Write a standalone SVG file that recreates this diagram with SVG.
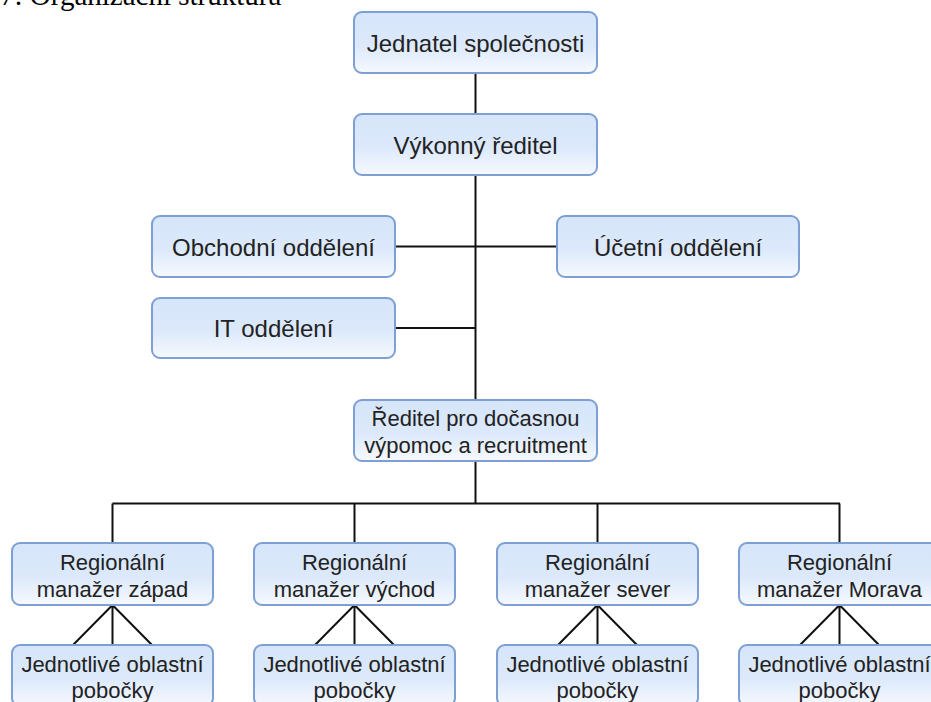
<svg xmlns="http://www.w3.org/2000/svg" width="931" height="702" viewBox="0 0 931 702">
<defs>
<linearGradient id="g" x1="0" y1="0" x2="0" y2="1">
<stop offset="0" stop-color="#d6e5fa"/>
<stop offset="0.55" stop-color="#dce9fb"/>
<stop offset="1" stop-color="#f6f9fe"/>
</linearGradient>
</defs>
<style>
.box{fill:url(#g);stroke:#7d9fd3;stroke-width:2}
.t{font-family:"Liberation Sans",Arial,sans-serif;fill:#222;text-anchor:middle}
.l{font-size:24px}
.s{font-size:22px}
.c{stroke:#111;stroke-width:2;fill:none}
.title{font-family:"Liberation Serif","Times New Roman",serif;font-size:29px;fill:#000}
</style>
<rect width="931" height="702" fill="#fff"/>
<text class="title" x="0" y="5">7: Organizační struktura</text>
<g id="connectors">
<path class="c" d="M475.5 73V114M475.5 175V503.5M395 246.5H557M395 328H475.5M112.5 503.5H840M112.5 503.5V543M354.5 503.5V543M597.5 503.5V543M839.5 503.5V543"/>
<path class="c" d="M112.5 605L73 645M112.5 605V645M112.5 605L152 645"/>
<path class="c" d="M354.5 605L315 645M354.5 605V645M354.5 605L394 645"/>
<path class="c" d="M597.5 605L558 645M597.5 605V645M597.5 605L637 645"/>
<path class="c" d="M839.5 605L800 645M839.5 605V645M839.5 605L879 645"/>
</g>
<g id="n1"><rect class="box" x="354" y="12" width="243" height="61" rx="8"/><text class="t l" x="475.5" y="52">Jednatel společnosti</text></g>
<g id="n2"><rect class="box" x="354" y="114" width="243" height="61" rx="8"/><text class="t l" x="475.5" y="154">Výkonný ředitel</text></g>
<g id="n3"><rect class="box" x="152" y="216" width="243" height="61" rx="8"/><text class="t l" x="273.5" y="256">Obchodní oddělení</text></g>
<g id="n4"><rect class="box" x="557" y="216" width="242" height="61" rx="8"/><text class="t l" x="678" y="256">Účetní oddělení</text></g>
<g id="n5"><rect class="box" x="152" y="298" width="243" height="60" rx="8"/><text class="t l" x="273.5" y="337">IT oddělení</text></g>
<g id="n6"><rect class="box" x="354" y="400" width="243" height="61" rx="8"/><text class="t s" x="475.5" y="426">Ředitel pro dočasnou</text><text class="t s" x="475.5" y="453">výpomoc a recruitment</text></g>
<g id="r1"><rect class="box" x="12" y="543" width="201" height="62" rx="8"/><text class="t s" x="112.5" y="570">Regionální</text><text class="t s" x="112.5" y="597">manažer západ</text></g>
<g id="r2"><rect class="box" x="254" y="543" width="201" height="62" rx="8"/><text class="t s" x="354.5" y="570">Regionální</text><text class="t s" x="354.5" y="597">manažer východ</text></g>
<g id="r3"><rect class="box" x="497" y="543" width="201" height="62" rx="8"/><text class="t s" x="597.5" y="570">Regionální</text><text class="t s" x="597.5" y="597">manažer sever</text></g>
<g id="r4"><rect class="box" x="739" y="543" width="201" height="62" rx="8"/><text class="t s" x="839.5" y="570">Regionální</text><text class="t s" x="839.5" y="597">manažer Morava</text></g>
<g id="b1"><rect class="box" x="12" y="645" width="201" height="61" rx="8"/><text class="t s" x="112.5" y="672">Jednotlivé oblastní</text><text class="t s" x="112.5" y="698">pobočky</text></g>
<g id="b2"><rect class="box" x="254" y="645" width="201" height="61" rx="8"/><text class="t s" x="354.5" y="672">Jednotlivé oblastní</text><text class="t s" x="354.5" y="698">pobočky</text></g>
<g id="b3"><rect class="box" x="497" y="645" width="201" height="61" rx="8"/><text class="t s" x="597.5" y="672">Jednotlivé oblastní</text><text class="t s" x="597.5" y="698">pobočky</text></g>
<g id="b4"><rect class="box" x="739" y="645" width="201" height="61" rx="8"/><text class="t s" x="839.5" y="672">Jednotlivé oblastní</text><text class="t s" x="839.5" y="698">pobočky</text></g>
</svg>
